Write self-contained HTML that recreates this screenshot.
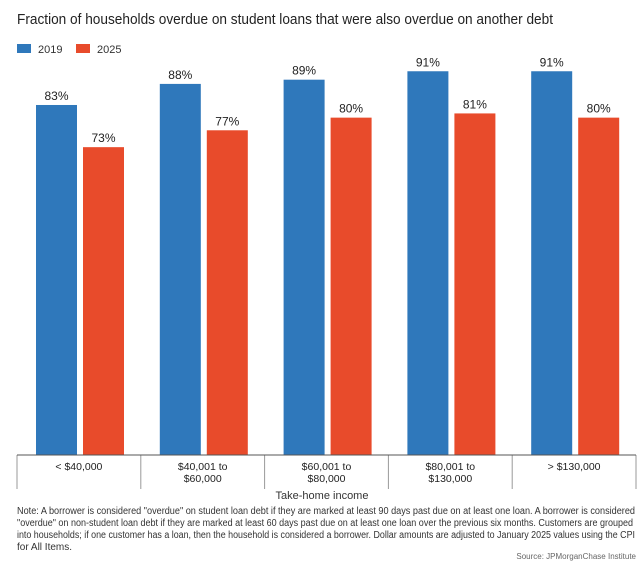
<!DOCTYPE html>
<html><head><meta charset="utf-8"><style>
html,body{margin:0;padding:0;background:#fff;}
svg{display:block;font-family:"Liberation Sans Narrow","Liberation Sans",sans-serif;}
</style></head><body>
<svg id="chart" width="644" height="568" viewBox="0 0 644 568" xmlns="http://www.w3.org/2000/svg">
<text x="17" y="24" font-size="15" fill="#222" textLength="536" lengthAdjust="spacingAndGlyphs">Fraction of households overdue on student loans that were also overdue on another debt</text>
<rect x="17" y="44" width="14" height="9" fill="#2f78bb"/>
<text x="38" y="53" font-size="11" fill="#333">2019</text>
<rect x="76" y="44" width="14" height="9" fill="#e84b2b"/>
<text x="97" y="53" font-size="11" fill="#333">2025</text>
<g id="bars"></g>
<g id="axis"></g>
<text x="322" y="499" font-size="11" fill="#333" text-anchor="middle">Take-home income</text>
<g font-size="10" fill="#333">
<text x="17" y="514" textLength="618" lengthAdjust="spacingAndGlyphs">Note: A borrower is considered "overdue" on student loan debt if they are marked at least 90 days past due on at least one loan. A borrower is considered</text>
<text x="17" y="526" textLength="616" lengthAdjust="spacingAndGlyphs">"overdue" on non-student loan debt if they are marked at least 60 days past due on at least one loan over the previous six months. Customers are grouped</text>
<text x="17" y="538" textLength="618" lengthAdjust="spacingAndGlyphs">into households; if one customer has a loan, then the household is considered a borrower. Dollar amounts are adjusted to January 2025 values using the CPI</text>
<text x="17" y="550">for All Items.</text>
</g>
<text x="636" y="559" font-size="8" fill="#666" text-anchor="end">Source: JPMorganChase Institute</text>
</svg>
<script>
const categories = [["< $40,000"],["$40,001 to","$60,000"],["$60,001 to","$80,000"],["$80,001 to","$130,000"],["> $130,000"]];
const values2019 = [83, 88, 89, 91, 91];
const values2025 = [73, 77, 80, 81, 80];
const NS = "http://www.w3.org/2000/svg";
const x0 = 17, x1 = 636, baseY = 455, pxPerPt = 4.217;
const catW = (x1 - x0) / categories.length;
const y = v => baseY - v * pxPerPt;
const bars = document.getElementById('bars');
const axis = document.getElementById('axis');
function mk(tag, attrs, parent){const e=document.createElementNS(NS,tag);for(const k in attrs)e.setAttribute(k,attrs[k]);parent.appendChild(e);return e;}
categories.forEach((c,i)=>{
  const cx = x0 + i*catW;
  [[values2019[i],'#2f78bb',19,'2019'],[values2025[i],'#e84b2b',66,'2025']].forEach(([v,col,off,s])=>{
    const r = mk('rect',{x:cx+off,y:y(v),width:41,height:baseY-y(v),fill:col},bars);
    
    
    const t = mk('text',{x:cx+off+20.5,y:y(v)-5,'font-size':12,fill:'#222','text-anchor':'middle'},bars);
    t.textContent = v+'%';
    
    
  });
  c.forEach((ln,j)=>{
    const t = mk('text',{x:cx+catW/2,y:470+j*12,'font-size':10.5,fill:'#222','text-anchor':'middle'},axis);
    t.textContent = ln;
    
    
  });
});
for(let i=0;i<=categories.length;i++){
  const xx = x0 + i*catW;
  const l = mk('line',{x1:xx,x2:xx,y1:baseY,y2:489,stroke:'#999','stroke-width':1},axis);
  
  
}
const al = mk('line',{x1:x0,x2:x1,y1:baseY,y2:baseY,stroke:'#555','stroke-width':1},axis);


</script>
</body></html>
